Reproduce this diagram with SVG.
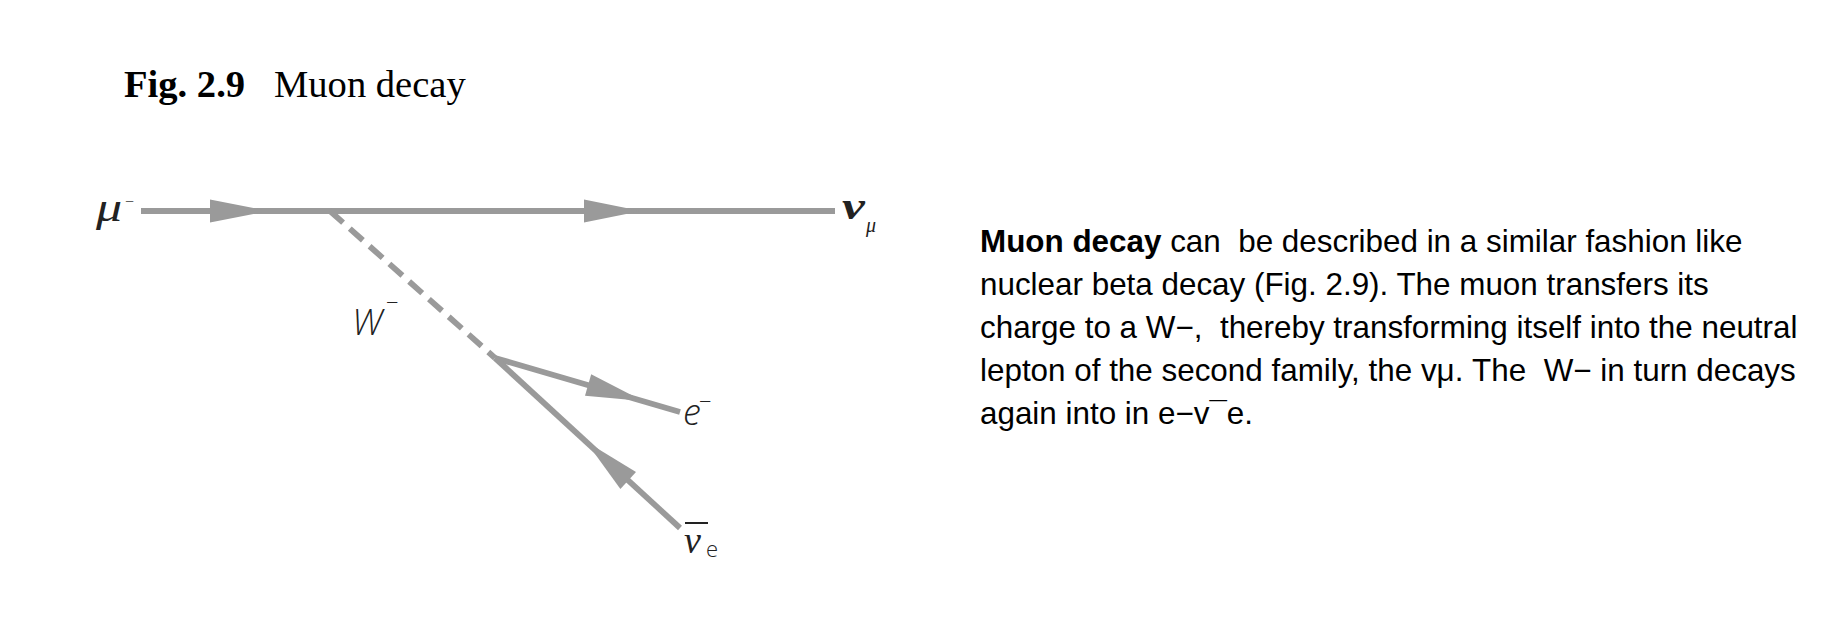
<svg xmlns="http://www.w3.org/2000/svg" width="1842" height="640" viewBox="0 0 1842 640">
<style>
.ln{stroke:#9a9a9a;stroke-width:5.8;fill:none}
.dash{stroke:#9a9a9a;stroke-width:5.8;fill:none;stroke-dasharray:17.5 9}
.ah{fill:#9a9a9a}
.lbl{fill:#222;font-family:"Liberation Serif",serif;font-style:italic}
.sans{fill:#222;font-family:"Open Sans","Liberation Sans",sans-serif;font-weight:300}
.para{fill:#000;font-family:"Liberation Sans",Arial,sans-serif;font-size:31.4px}
.title{fill:#000;font-family:"Liberation Serif","Times New Roman",serif;font-size:38.6px}
</style>
<rect width="1842" height="640" fill="#fff"/>
<g id="title">
<text class="title" x="124" y="97"><tspan font-weight="bold">Fig. 2.9</tspan></text>
<text class="title" x="274" y="97">Muon decay</text>
</g>
<g id="connectors">
<line class="ln" x1="141" y1="211" x2="835" y2="211"/>
<polygon class="ah" points="210,199.5 210,222.5 268,211"/>
<polygon class="ah" points="584,199.5 584,222.5 641,211"/>
<line class="dash" x1="330" y1="211" x2="495" y2="358"/>
<line class="ln" x1="495" y1="358" x2="680" y2="412"/>
<polygon class="ah" points="591.2,374.3 585.0,395.7 643,401.1"/>
<line class="ln" x1="495" y1="358" x2="680" y2="528"/>
<polygon class="ah" points="620.4,488.9 636.0,471.9 586,441.6"/>
</g>
<g id="mu">
<text class="lbl" transform="translate(96,221) scale(1.3,1)" font-size="40">μ</text>
<text class="sans" x="125" y="207" font-size="16">−</text>
</g>
<g id="numu">
<text class="lbl" transform="translate(842,219) scale(1.35,1)" font-size="38" font-weight="bold">ν</text>
<text class="lbl" x="866" y="232" font-size="20">μ</text>
</g>
<g id="W">
<text class="sans" x="352" y="335" font-size="36" font-style="italic">W</text>
<text class="sans" x="386" y="310" font-size="22">−</text>
</g>
<g id="electron">
<text class="sans" x="683" y="425" font-size="36" font-style="italic">e</text>
<text class="sans" x="699" y="409" font-size="22">−</text>
</g>
<g id="antinue">
<text class="lbl" x="684" y="553" font-size="38">ν</text>
<line x1="685" y1="523" x2="708" y2="523" stroke="#222" stroke-width="2"/>
<text class="sans" x="706" y="557" font-size="22">e</text>
</g>
<g id="paragraph">
<text class="para" xml:space="preserve" x="980" y="252"><tspan font-weight="bold">Muon decay</tspan> can  be described in a similar fashion like</text>
<text class="para" xml:space="preserve" x="980" y="295">nuclear beta decay (Fig. 2.9). The muon transfers its</text>
<text class="para" xml:space="preserve" x="980" y="338">charge to a W−,  thereby transforming itself into the neutral</text>
<text class="para" xml:space="preserve" x="980" y="381">lepton of the second family, the vμ. The  W− in turn decays</text>
<text class="para" xml:space="preserve" x="980" y="424">again into in e−v¯e.</text>
</g>
</svg>
